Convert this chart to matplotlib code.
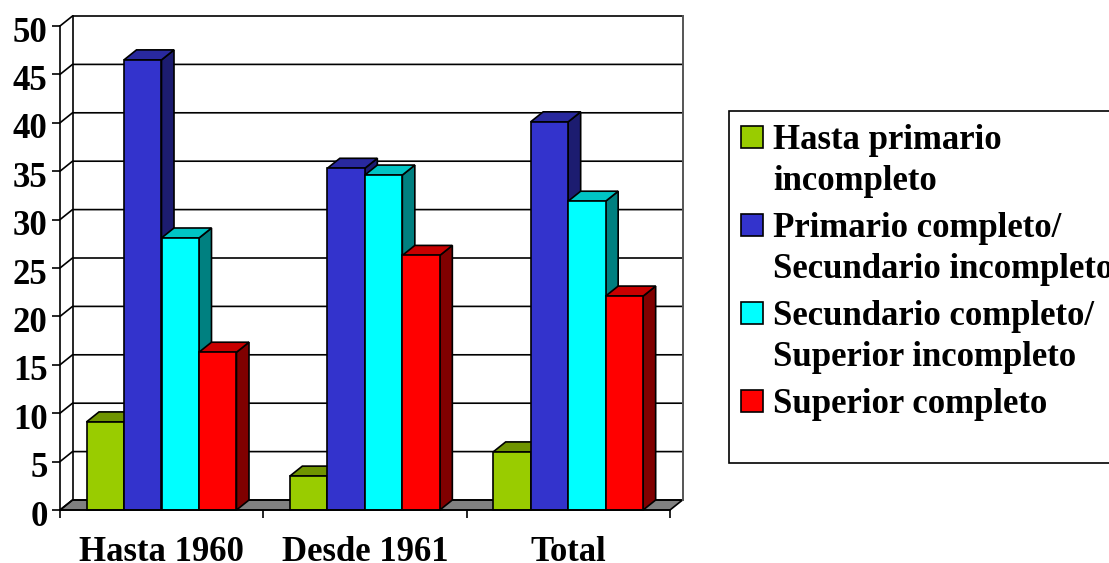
#!/usr/bin/env python3
import matplotlib
matplotlib.use('Agg')
import matplotlib.pyplot as plt
from matplotlib.patches import Polygon, Rectangle
from matplotlib.transforms import ScaledTranslation

categories = ['Hasta 1960', 'Desde 1961', 'Total']
series_names = ['Hasta primario\nincompleto',
                'Primario completo/\nSecundario incompleto',
                'Secundario completo/\nSuperior incompleto',
                'Superior completo']
hasta_primario = [9.1, 3.5, 6.0]
primario = [46.5, 35.3, 40.1]
secundario = [28.1, 34.6, 31.9]
superior = [16.3, 26.3, 22.1]
y_ticks = list(range(0, 55, 5))

all_series = [hasta_primario, primario, secundario, superior]
front_colors = ['#99CC00', '#3333CC', '#00FFFF', '#FF0000']
top_colors = ['#6F9400', '#29299E', '#00C4C4', '#C80000']
side_colors = ['#4D6600', '#1C1C70', '#008080', '#800000']

W, H = 1109, 563
plt.rcParams['font.family'] = ['Liberation Serif']
plt.rcParams['font.weight'] = 'bold'

fig = plt.figure(figsize=(W / 100, H / 100), dpi=100)
ax = fig.add_axes([60 / W, 1 - 510 / H, 610 / W, 484 / H])
ax.set_xlim(0, 3)
ax.set_ylim(0, 50)
ax.patch.set_visible(False)

# depth of the box, in data units
dx = 12.5 / (610 / 3)
dy = 10 / (484 / 50)
bar_w = 37.5 / (610 / 3)
gap = 26.5 / (610 / 3)
lw = 1.2

# floor and back wall
ax.add_patch(Polygon([(0, 0), (dx, dy), (3 + dx, dy), (3, 0)], closed=True,
                     facecolor='#808080', edgecolor='black', lw=lw,
                     clip_on=False, zorder=1))
for t in y_ticks:
    ax.plot([0, dx, 3 + dx], [t, t + dy, t + dy], color='black', lw=lw,
            clip_on=False, zorder=1)
ax.plot([dx, dx], [dy, 50 + dy], color='black', lw=lw, clip_on=False, zorder=1)
ax.plot([3 + dx, 3 + dx], [dy, 50 + dy], color='#555555', lw=1.4,
        clip_on=False, zorder=1)

# bars, left to right so each front face covers the side of the previous bar
z = 2
for c in range(len(categories)):
    for s, values in enumerate(all_series):
        v = values[c]
        x0 = c + gap + s * bar_w
        x1 = x0 + bar_w
        ax.add_patch(Polygon([(x1, 0), (x1 + dx, dy), (x1 + dx, v + dy), (x1, v)],
                             closed=True, facecolor=side_colors[s],
                             edgecolor='black', lw=lw, clip_on=False, zorder=z))
        ax.add_patch(Polygon([(x0, v), (x0 + dx, v + dy), (x1 + dx, v + dy), (x1, v)],
                             closed=True, facecolor=top_colors[s],
                             edgecolor='black', lw=lw, clip_on=False, zorder=z))
        ax.bar(x0, v, width=bar_w, align='edge', color=front_colors[s],
               edgecolor='black', linewidth=lw, clip_on=False, zorder=z + 1)
        z += 2

# axes
for side in ['top', 'right']:
    ax.spines[side].set_visible(False)
for side in ['left', 'bottom']:
    ax.spines[side].set_linewidth(lw)
    ax.spines[side].set_zorder(100)

ax.set_yticks(y_ticks)
ax.tick_params(axis='y', length=6, width=lw, pad=3, labelsize=25)
shift_down = ScaledTranslation(0, -3 / 100, fig.dpi_scale_trans)
for label in ax.get_yticklabels():
    label.set_transform(label.get_transform() + shift_down)

ax.set_xticks(range(len(categories) + 1))
ax.set_xticklabels([])
ax.tick_params(axis='x', which='major', length=5.5, width=lw)
ax.set_xticks([c + 0.5 for c in range(len(categories))], minor=True)
ax.set_xticklabels(categories, minor=True, fontsize=25)
ax.tick_params(axis='x', which='minor', length=0, pad=19)

# legend box in pixel coordinates
leg = fig.add_axes([0, 0, 1, 1], zorder=200)
leg.set_xlim(0, W)
leg.set_ylim(H, 0)
leg.axis('off')
leg.add_patch(Rectangle((729, 110.5), 500, 352, facecolor='white',
                        edgecolor='black', lw=1.2))
swatch_y = [126, 214, 302, 390]
text_y = [124, 212, 300, 388]
for name, color, sy, ty in zip(series_names, front_colors, swatch_y, text_y):
    leg.add_patch(Rectangle((741, sy), 22, 22, facecolor=color,
                            edgecolor='black', lw=1.2))
    leg.text(773, ty, name, fontsize=25, va='top', ha='left', linespacing=1.3,
             clip_on=False)

plt.savefig('out.png', dpi=100)
